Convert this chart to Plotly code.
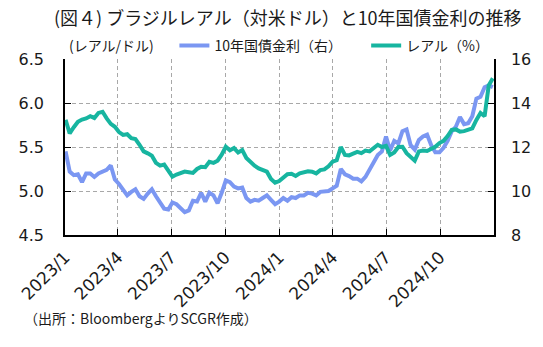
import pandas as pd
import plotly.graph_objects as go

# weekly observations (Mondays) 2023-01-02 .. 2024-12-30
dates = pd.date_range("2023-01-02", periods=105, freq="7D")

# blue line (left axis scale)
blue_vals = [5.45, 5.22, 5.18, 5.19, 5.10, 5.20, 5.20, 5.16, 5.20, 5.22,
             5.24, 5.29, 5.13, 5.08, 5.02, 4.95, 4.99, 5.02, 4.94, 4.91,
             4.97, 5.02, 4.94, 4.87, 4.80, 4.79, 4.87, 4.85, 4.80, 4.76,
             4.78, 4.89, 4.88, 4.98, 4.88, 4.98, 4.95, 4.86, 4.98, 5.12,
             5.10, 5.05, 5.03, 5.04, 4.92, 4.88, 4.90, 4.89, 4.92, 4.95,
             4.90, 4.85, 4.88, 4.92, 4.89, 4.93, 4.92, 4.95, 4.95, 4.98,
             4.97, 4.95, 4.99, 5.00, 5.00, 5.03, 5.06, 5.25, 5.19, 5.17,
             5.14, 5.14, 5.11, 5.16, 5.24, 5.31, 5.41, 5.45, 5.62, 5.46,
             5.57, 5.54, 5.68, 5.70, 5.52, 5.47, 5.58, 5.62, 5.64, 5.52,
             5.44, 5.44, 5.49, 5.57, 5.68, 5.73, 5.84, 5.76, 5.77, 5.85,
             6.05, 6.07, 6.18, 6.20, 6.18]

# teal line (right axis scale, %)
teal_vals = [13.23, 12.62, 12.90, 13.15, 13.25, 13.30, 13.40, 13.32, 13.55, 13.60,
             13.30, 13.05, 12.92, 12.68, 12.55, 12.58, 12.40, 12.36, 12.10, 11.80,
             11.71, 11.60, 11.28, 11.15, 11.20, 10.95, 10.65, 10.75, 10.82, 10.88,
             10.85, 10.82, 11.00, 11.10, 11.08, 11.33, 11.28, 11.38, 11.65, 12.01,
             11.85, 11.95, 11.75, 11.86, 11.50, 11.32, 11.15, 11.03, 10.95, 10.88,
             10.55, 10.38, 10.45, 10.60, 10.76, 10.78, 10.68, 10.80, 10.87, 10.90,
             10.88, 10.80, 10.95, 10.98, 11.12, 11.33, 11.40, 12.00, 11.64, 11.62,
             11.70, 11.78, 11.72, 11.84, 11.80, 11.98, 12.10, 12.00, 12.05, 11.64,
             11.75, 12.00, 12.01, 11.72, 11.55, 11.38, 11.80, 11.84, 11.82, 11.90,
             12.01, 12.18, 12.28, 12.50, 12.78, 12.80, 12.70, 12.72, 12.77, 12.85,
             13.23, 13.55, 13.40, 14.80, 15.12]

x_tickvals = ["2023-01-01", "2023-04-01", "2023-07-01", "2023-10-01",
              "2024-01-01", "2024-04-01", "2024-07-01", "2024-10-01"]
x_ticktext = ["2023/1", "2023/4", "2023/7", "2023/10",
              "2024/1", "2024/4", "2024/7", "2024/10"]
y_left_ticks = [4.5, 5.0, 5.5, 6.0, 6.5]
y_right_ticks = [8, 10, 12, 14, 16]

BLUE = "#7B97F2"
TEAL = "#17B5A0"
FONT = "Noto Sans CJK JP"
NUMFONT = "DejaVu Sans"
GRID = "#A8A8A8"

fig = go.Figure()
fig.add_trace(go.Scatter(x=dates, y=blue_vals, mode="lines", name="10年国債金利（右）",
                         line=dict(color=BLUE, width=4), yaxis="y", legend="legend"))
fig.add_trace(go.Scatter(x=dates, y=teal_vals, mode="lines", name="レアル（%）",
                         line=dict(color=TEAL, width=4), yaxis="y2", legend="legend2"))

leg_common = dict(orientation="h", xanchor="left", yanchor="middle", y=1.075,
                  font=dict(size=14, family=FONT, color="#1a1a1a"),
                  bgcolor="rgba(0,0,0,0)", borderwidth=0)

fig.update_layout(
    width=543, height=347,
    margin=dict(l=65, r=46, t=59, b=112),
    paper_bgcolor="white", plot_bgcolor="white",
    font=dict(family=FONT, color="#1a1a1a", size=14),
    title=dict(text="(図４) ブラジルレアル（対米ドル）と10年国債金利の推移",
               x=0.53, xanchor="center", y=0.945, yanchor="middle",
               font=dict(size=18, family=FONT, color="#1a1a1a")),
    showlegend=True,
    legend=dict(x=0.255, **leg_common),
    legend2=dict(x=0.702, **leg_common),
    xaxis=dict(type="date", range=["2023-01-01", "2025-01-01"],
               tickvals=x_tickvals, ticktext=x_ticktext, tickangle=-45,
               showgrid=True, gridcolor=GRID, griddash="4px,3px", gridwidth=1,
               showline=True, linecolor="black", linewidth=1.5,
               ticks="inside", ticklen=6, tickcolor="black",
               tickfont=dict(size=17, family=NUMFONT, color="#1a1a1a"),
               ticklabelstandoff=4, zeroline=False),
    yaxis=dict(range=[4.5, 6.5], tickvals=y_left_ticks,
               ticktext=[f"{v:.1f}" for v in y_left_ticks],
               showgrid=True, gridcolor=GRID, griddash="4px,3px", gridwidth=1,
               showline=True, linecolor="black", linewidth=1.5,
               ticks="inside", ticklen=6, tickcolor="black",
               tickfont=dict(size=16, family=NUMFONT, color="#1a1a1a"),
               ticklabelstandoff=16, zeroline=False),
    yaxis2=dict(range=[8, 16], tickvals=y_right_ticks, overlaying="y", side="right",
                showgrid=False, showline=True, linecolor="black", linewidth=1.5,
                ticks="inside", ticklen=6, tickcolor="black",
                tickfont=dict(size=16, family=NUMFONT, color="#1a1a1a"),
                ticklabelstandoff=12, zeroline=False),
    annotations=[
        dict(text="(レアル/ドル)", xref="paper", yref="paper", x=0.005, y=1.08,
             xanchor="left", yanchor="middle", showarrow=False,
             font=dict(size=14, family=FONT)),
        dict(text="（出所：BloombergよりSCGR作成）", xref="paper", yref="paper",
             x=-0.1, y=-0.47, xanchor="left", yanchor="middle", showarrow=False,
             font=dict(size=14, family=FONT)),
    ],
)

fig.write_html("out.html")
